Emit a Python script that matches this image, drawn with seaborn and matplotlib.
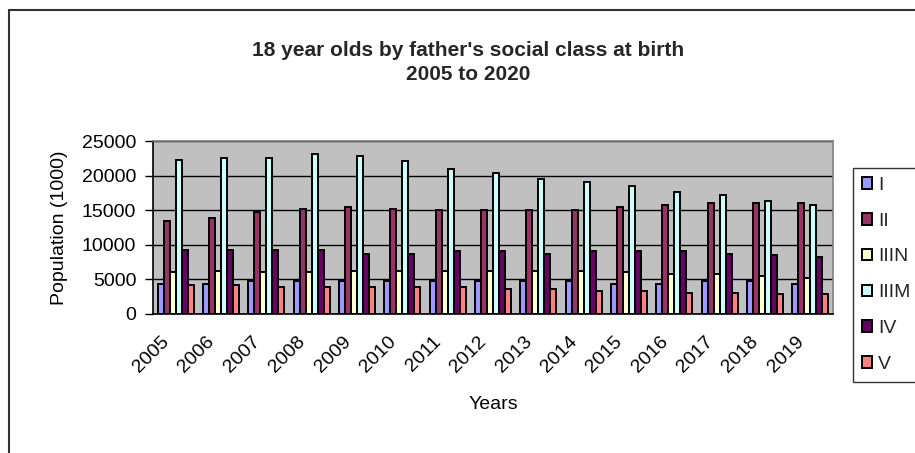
import matplotlib
matplotlib.use("Agg")
import matplotlib.pyplot as plt
import matplotlib.transforms as mtransforms
from matplotlib.patches import Patch
from matplotlib.lines import Line2D
import numpy as np
import pandas as pd
import seaborn as sns

# ---- data -------------------------------------------------------------
years = [str(y) for y in range(2005, 2020)]
classes = ["I", "II", "IIIN", "IIIM", "IV", "V"]

class_I = [4400, 4400, 4700, 4700, 4700, 4700, 4700, 4700, 4700, 4700, 4400, 4400, 4700, 4700, 4400]
class_II = [13370, 13890, 14710, 15190, 15480, 15190, 15000, 15000, 15000, 15000, 15480, 15820, 16110, 16110, 16110]
class_IIIN = [6040, 6280, 6040, 6040, 6280, 6280, 6280, 6280, 6280, 6280, 6040, 5750, 5750, 5510, 5220]
class_IIIM = [22220, 22560, 22560, 23090, 22850, 22040, 20920, 20440, 19580, 19040, 18510, 17700, 17170, 16340, 15820]
class_IV = [9320, 9320, 9320, 9320, 8740, 8740, 9070, 9070, 8740, 9070, 9070, 9070, 8740, 8500, 8250]
class_V = [4160, 4160, 3920, 3920, 3920, 3920, 3920, 3630, 3630, 3340, 3340, 3050, 3050, 2820, 2820]

y_ticks = [0, 5000, 10000, 15000, 20000, 25000]
colors = ["#9999FF", "#993366", "#FFFFCC", "#CCFFFF", "#660066", "#FF8080"]

series = [class_I, class_II, class_IIIN, class_IIIM, class_IV, class_V]
df = pd.DataFrame({
    "Year": np.repeat([years], len(classes), axis=0).ravel(),
    "Class": np.repeat(classes, len(years)),
    "Population": np.concatenate(series),
})

# ---- figure -----------------------------------------------------------
sns.set_theme(style="white")
plt.rcParams["font.family"] = ["Liberation Sans", "DejaVu Sans"]

W, H = 915, 453
FS = 14
fig = plt.figure(figsize=(W / 100, H / 100), dpi=100)
fig.patch.set_facecolor("white")

left, right, top, bottom = 153, 833, 141, 314
ax = fig.add_axes([left / W, 1 - bottom / H, (right - left) / W, (bottom - top) / H])
ax.set_facecolor("#C0C0C0")

sns.barplot(
    data=df, x="Year", y="Population", hue="Class", hue_order=classes,
    palette=colors, saturation=1, width=0.8, gap=0,
    edgecolor="black", linewidth=1.4, legend=False, ax=ax, zorder=3,
)

ax.set_xlim(-0.5, len(years) - 0.5)
ax.set_ylim(0, 25000)
ax.set_yticks(y_ticks)
ax.set_yticklabels([str(v) for v in y_ticks], fontsize=FS, color="black")
ax.yaxis.grid(True, color="black", linewidth=1.0, zorder=1)
ax.set_axisbelow(True)

# category labels at centres, tick marks at category boundaries
ax.set_xticks(range(len(years)))
ax.set_xticklabels(years, fontsize=FS, rotation=45, ha="right", va="top", color="black")
ax.set_xticks(np.arange(-0.5, len(years)), minor=True)
ax.tick_params(axis="x", which="major", length=0, pad=14)
ax.tick_params(axis="x", which="minor", length=6, width=1, color="black", direction="out")
ax.tick_params(axis="y", which="major", length=6, width=1, color="black", direction="out", pad=6, left=True)
shift = mtransforms.ScaledTranslation(-3 / 100, 0, fig.dpi_scale_trans)
for lbl in ax.get_xticklabels():
    lbl.set_transform(lbl.get_transform() + shift)

for side in ["left", "bottom"]:
    ax.spines[side].set_color("black")
    ax.spines[side].set_linewidth(1.2)
for side in ["top", "right"]:
    ax.spines[side].set_color("#808080")
    ax.spines[side].set_linewidth(1.2)

ax.set_xlabel("Years", fontsize=FS, color="black", labelpad=14)
ax.set_ylabel("Population (1000)", fontsize=FS, color="black", labelpad=10)

fig.text(468 / W, 1 - 50 / H, "18 year olds by father's social class at birth",
         ha="center", va="center", fontsize=15, fontweight="bold")
fig.text(468 / W, 1 - 74 / H, "2005 to 2020",
         ha="center", va="center", fontsize=15, fontweight="bold")

# legend
handles = [Patch(facecolor=c, edgecolor="black", linewidth=1.4) for c in colors]
leg = fig.legend(
    handles, classes, loc="upper left", bbox_to_anchor=(853 / W, 1 - 168 / H),
    fontsize=FS, frameon=True, fancybox=False, edgecolor="black",
    handlelength=0.55, handleheight=0.55, handletextpad=0.3,
    labelspacing=0.97, borderpad=0.45, borderaxespad=0,
)
leg.get_frame().set_linewidth(1.0)

# chart area border (left and top edges)
fig.add_artist(Line2D([8.5 / W, 8.5 / W], [0, 1 - 10 / H], color="#333333", linewidth=1.5,
                      transform=fig.transFigure))
fig.add_artist(Line2D([8.5 / W, 1], [1 - 10 / H, 1 - 10 / H], color="#333333", linewidth=1.5,
                      transform=fig.transFigure))

fig.savefig("out.png", dpi=100)
